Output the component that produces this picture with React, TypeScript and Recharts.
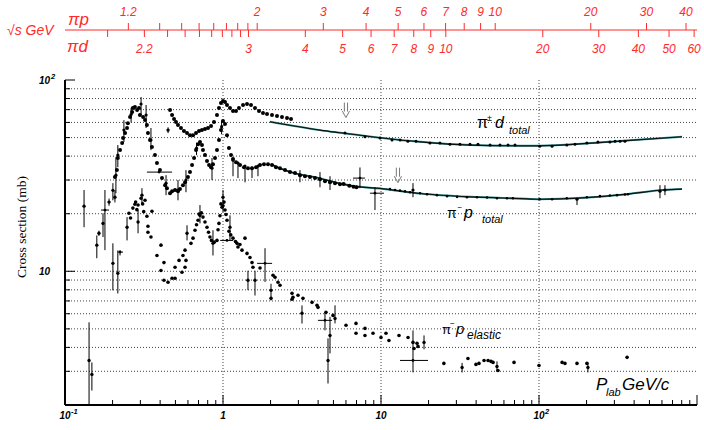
import React from "react";
import {
  ComposedChart,
  Scatter,
  Line,
  XAxis,
  YAxis,
  CartesianGrid,
  ErrorBar,
  ReferenceDot,
} from "recharts";

const RED = "#ff2a2a";
const SANS = "'Liberation Sans', Arial, sans-serif";

// masses (GeV) used to place the sqrt(s) scales on the P_lab axis
const M_PI = 0.13957;
const M_P = 0.93827;
const M_D = 1.87561;

const ppRoots = [1.2, 1.3, 1.4, 1.5, 1.6, 1.7, 1.8, 1.9, 2, 3, 4, 5, 6, 7, 8, 9, 10, 20, 30, 40];
const ppLabels = ["1.2", "", "", "", "", "", "", "", "2", "3", "4", "5", "6", "7", "8", "9", "10", "20", "30", "40"];
const pdRoots = [2.1, 2.2, 2.3, 2.4, 2.5, 2.6, 2.7, 2.8, 2.9, 3, 4, 5, 6, 7, 8, 9, 10, 20, 30, 40, 50, 60];
const pdLabels = ["", "2.2", "", "", "", "", "", "", "", "3", "4", "5", "6", "7", "8", "9", "10", "20", "30", "40", "50", "60"];

const plab = (rs: number, m: number) => {
  const e = (rs * rs - M_PI * M_PI - m * m) / (2 * m);
  return Math.sqrt(e * e - M_PI * M_PI);
};

const xTicks = [
  0.1, 0.2, 0.3, 0.4, 0.5, 0.6, 0.7, 0.8, 0.9, 1, 2, 3, 4, 5, 6, 7, 8, 9, 10, 20, 30, 40, 50, 60, 70, 80, 90,
  100, 200, 300, 400, 500, 600, 700, 800, 900, 1000,
];
const xMajor = [0.1, 1, 10, 100, 1000];
const xLabelAt = [0.1, 1, 10, 100];
const xLabelMain = ["10", "1", "10", "10"];
const xLabelSup = ["-1", "", "", "2"];
const xGrid = [1, 10, 100];

const yTicks = [2, 3, 4, 5, 6, 7, 8, 9, 10, 20, 30, 40, 50, 60, 70, 80, 90, 100];
const yGrid = [3, 4, 5, 6, 7, 8, 9, 10, 20, 30, 40, 50, 60, 70, 80, 90];
const yLabelAt = [10, 100];
const yLabelSup = ["", "2"];

// pi d total, dense data below 3 GeV/c  [p, sigma]
const pdTotal = [
  [0.462, 69.6], [0.476, 65.6], [0.49, 62.5], [0.504, 60.3], [0.519, 58.1], [0.542, 56.1], [0.566, 54.1],
  [0.592, 52.8], [0.618, 51.5], [0.646, 51.5], [0.675, 52.8], [0.705, 54.1], [0.736, 54.7], [0.769, 55.4],
  [0.804, 56.1], [0.84, 57.4], [0.877, 60.3], [0.916, 65.6], [0.943, 71.4], [0.971, 75.8], [1.0, 77.7],
  [1.03, 76.7], [1.06, 74.0], [1.107, 71.4], [1.157, 68.8], [1.209, 68.8], [1.262, 71.4], [1.339, 74.0],
  [1.419, 74.9], [1.504, 74.0], [1.594, 71.4], [1.69, 68.8], [1.791, 67.2], [1.899, 66.4], [2.042, 65.6],
  [2.197, 64.8], [2.362, 64.0], [2.542, 63.2], [2.694, 62.5],
];
// pi d total, points along the fit
const pdHigh = [
  [5.92, 52.8], [7.92, 50.5], [9.86, 49.7], [11.74, 48.5], [13.2, 48.5], [14.8, 47.9], [16.66, 47.9],
  [20.4, 46.8], [23.6, 46.8], [27.3, 46.2], [31.6, 46.2], [36.6, 46.2], [41.1, 46.2], [49.0, 45.7],
  [56.6, 45.7], [63.7, 45.7], [70.5, 45.7], [101, 45.1], [121, 45.1], [150, 45.7], [169, 46.2],
  [201, 46.8], [236, 47.4], [281, 47.4], [303, 47.9], [326, 47.9], [350, 47.9],
];
const pdFit = [
  [1.98, 60.5], [4.11, 54.7], [5.5, 53.0], [9.86, 49.9], [17.7, 47.5], [36.6, 45.7], [75.8, 45.3],
  [101, 45.3], [201, 46.6], [340, 48.1], [804, 50.5],
];

// pi- p total, dense data  [p, sigma]
const pimpTotal = [
  [0.207, 31.1], [0.213, 33.8], [0.216, 39.1], [0.223, 43.0], [0.23, 46.8], [0.233, 49.7], [0.24, 52.8],
  [0.247, 56.1], [0.25, 59.5], [0.258, 64.0], [0.266, 68.0], [0.269, 71.4], [0.277, 72.2], [0.286, 69.6],
  [0.294, 71.4], [0.298, 65.6], [0.312, 64.0], [0.321, 61.7], [0.33, 58.1], [0.335, 52.8], [0.345, 48.5],
  [0.355, 44.6], [0.371, 40.5], [0.382, 36.8], [0.399, 33.8], [0.411, 30.7], [0.43, 28.2], [0.442, 27.2],
  [0.462, 25.6], [0.476, 26.2], [0.497, 26.6], [0.519, 26.2], [0.534, 26.9], [0.558, 28.2], [0.575, 29.2],
  [0.6, 31.1], [0.618, 33.0], [0.637, 35.9], [0.656, 39.1], [0.675, 43.0], [0.695, 46.2], [0.715, 47.4],
  [0.736, 45.7], [0.747, 43.0], [0.769, 40.5], [0.792, 37.7], [0.816, 35.9], [0.84, 35.0], [0.864, 36.3],
  [0.89, 39.1], [0.916, 43.0], [0.943, 48.5], [0.971, 54.7], [1.0, 61.0], [1.03, 58.8], [1.06, 51.5],
  [1.09, 44.1], [1.124, 40.5], [1.157, 38.6], [1.209, 37.2], [1.281, 35.9], [1.358, 35.0], [1.439, 34.6],
  [1.526, 34.6], [1.618, 35.0], [1.715, 35.9], [1.817, 36.3], [1.927, 36.3], [2.042, 35.9], [2.164, 35.0],
  [2.295, 34.6], [2.469, 33.8], [2.655, 33.0], [2.856, 32.6], [3.072, 31.8], [3.304, 31.4], [3.553, 31.1],
  [3.822, 30.7], [4.11, 30.3], [4.42, 29.6], [4.756, 29.2], [5.117, 28.9], [5.502, 28.5], [5.8, 28.6],
  [6.3, 28.0], [6.7, 27.7], [7.0, 27.5],
];
const pimpHigh = [
  [11.4, 26.9], [12.27, 26.6], [13.19, 26.4], [14.19, 26.2], [15.26, 25.9], [17.66, 25.6], [19.55, 25.3],
  [22.6, 25.0], [26.2, 24.7], [30.3, 24.5], [35.0, 24.4], [40.5, 24.4], [46.9, 24.3], [54.2, 24.1],
  [62.7, 24.1], [68.4, 24.1], [101, 23.8], [121, 23.8], [150, 24.1], [201, 24.4], [243, 24.7], [281, 24.9],
  [312, 25.0], [350, 25.2], [366, 25.3],
];
// [p, sigma, err-, err+]
const pimpTotalErr = [
  [0.201, 26.5, 3.0, 2.4], [0.21, 31.8, 6.2, 7.7], [0.216, 40.5, 5.5, 5.2], [0.236, 54.7, 7.3, 7.0],
  [0.262, 66.0, 6.0, 5.5], [0.303, 74.9, 9.3, 6.6], [0.326, 65.6, 9.5, 8.4], [0.35, 48.5, 5.5, 7.6],
  [0.436, 28.9, 3.9, 2.9], [0.519, 26.6, 3.1, 3.4], [0.583, 30.0, 4.1, 3.8], [0.68, 44.0, 3.5, 3.0],
  [0.852, 34.6, 4.6, 4.5], [0.98, 57.0, 5.0, 4.0], [1.157, 38.1, 6.7, 0.5], [1.244, 36.8, 6.1, 0.3],
  [1.378, 35.5, 6.3, 0.3], [1.526, 34.6, 3.9, 0.3], [1.665, 35.5, 4.1, 0.3], [3.07, 31.8, 2.6, 2.0],
  [4.11, 30.3, 2.8, 2.7], [4.756, 29.2, 2.6, 2.2], [15.94, 26.6, 2.2, 2.3], [174, 23.8, 1.6, 0.4],
  [583, 26.2, 2.1, 2.0], [627, 26.6, 1.6, 1.6],
];
const pimpFit = [
  [2.07, 35.9], [2.3, 34.5], [2.86, 32.5], [3.7, 31.2], [5.5, 28.8], [6.65, 27.9], [9.86, 27.1],
  [17.7, 25.5], [36.6, 24.5], [75.8, 24.0], [101, 23.8], [201, 24.3], [361, 25.3], [609, 26.6], [804, 26.9],
];

// pi- p elastic
const elastic = [
  [0.254, 20.1], [0.26, 19.0], [0.269, 21.4], [0.277, 22.4], [0.28, 23.0], [0.285, 21.0], [0.29, 22.2],
  [0.303, 24.1], [0.31, 22.5], [0.315, 20.5], [0.321, 23.5], [0.33, 19.4], [0.335, 17.2], [0.335, 16.0],
  [0.35, 15.1], [0.355, 20.6], [0.382, 12.1], [0.405, 13.7], [0.423, 11.1], [0.405, 10.1], [0.423, 8.97],
  [0.449, 8.76], [0.476, 9.19], [0.497, 10.5], [0.527, 11.4], [0.497, 9.19], [0.55, 9.88], [0.575, 10.5],
  [0.558, 12.1], [0.583, 11.4], [0.575, 12.9], [0.627, 14.0], [0.646, 14.9], [0.665, 16.4], [0.68, 17.5],
  [0.695, 18.5], [0.705, 19.9], [0.73, 20.2], [0.747, 19.2], [0.769, 18.1], [0.792, 17.0], [0.81, 16.0],
  [0.827, 15.1], [0.845, 14.5], [0.88, 14.2], [0.916, 14.5], [0.93, 16.5], [0.943, 17.8], [0.957, 19.5],
  [0.97, 22.5], [0.986, 21.6], [1.0, 22.0], [1.015, 23.0], [1.03, 20.9], [1.045, 19.8], [1.06, 18.5],
  [1.09, 16.2], [1.12, 15.5], [1.157, 14.9], [1.2, 14.3], [1.226, 14.0], [1.244, 13.4], [1.28, 13.8],
  [1.319, 12.9], [1.378, 14.9], [1.419, 12.4], [1.482, 11.8], [1.526, 11.1], [1.548, 10.5], [1.715, 10.4],
  [2.073, 9.53], [2.134, 9.3], [2.229, 8.76], [2.295, 8.45], [2.013, 7.22], [2.734, 7.67], [2.734, 7.14],
  [2.773, 7.31], [2.984, 7.49], [3.208, 7.22], [3.659, 6.88], [3.935, 6.64], [3.993, 6.48], [4.486, 6.1],
  [4.969, 5.88], [6.005, 5.22], [6.948, 5.34], [6.948, 4.74], [7.917, 5.03], [7.917, 4.62], [8.901, 4.74],
  [10.0, 4.51], [10.75, 4.74], [11.23, 4.35], [13.0, 4.62], [14.83, 4.51], [15.94, 4.25], [16.18, 3.95],
  [16.9, 4.2], [17.15, 4.05], [25.0, 3.3], [35.5, 3.5], [39.9, 3.26], [41.7, 3.3], [44.9, 3.42], [47.6, 3.42],
  [49.7, 3.38], [51.2, 3.34], [55.0, 3.03], [69.5, 3.34], [100, 3.22], [140, 3.34], [146, 3.3], [174, 3.3],
  [201, 3.3], [361, 3.55],
];
const elasticErr = [
  [0.247, 17.0, 2.5, 2.2], [0.29, 18.1, 2.3, 2.8], [0.307, 25.0, 2.8, 2.2], [0.592, 15.8, 1.3, 1.6],
  [0.715, 19.6, 1.8, 2.6], [0.864, 14.0, 1.9, 2.4], [1.0, 24.4, 4.0, 2.2], [1.107, 17.0, 2.5, 2.6],
  [1.439, 8.97, 1.0, 1.1], [1.594, 8.97, 1.5, 1.1], [2.013, 7.95, 0.9, 0.65], [3.162, 6.03, 0.7, 0.6],
  [4.756, 4.62, 0.9, 1.16], [4.62, 3.42, 0.83, 1.04], [5.117, 5.67, 0.33, 0.97], [18.72, 4.25, 0.34, 0.37],
  [32.6, 3.14, 0.18, 0.18], [54.2, 3.18, 0.2, 0.2], [204, 3.14, 0.18, 0.2],
];

// low momentum points with large errors  [p, sigma, err-, err+]
const lowErr = [
  [0.132, 21.9, 4.9, 4.7], [0.142, 3.42, 1.42, 1.99], [0.148, 2.89, 0.51, 0.45], [0.159, 13.7, 2.0, 1.7],
  [0.164, 15.8, 0.5, 0.5], [0.174, 17.8, 2.7, 2.3], [0.19, 23.0, 1.0, 1.0], [0.207, 24.4, 1.5, 2.2],
  [0.201, 11.0, 3.05, 3.0], [0.216, 9.76, 2.1, 3.1], [0.449, 54.7, 1.9, 1.9],
];

// points drawn with horizontal and vertical bars  [p, sigma, ex-, ex+, ey-, ey+]
const crosses = [
  [0.179, 20.9, 0.01, 0.011, 8.0, 5.7], [0.223, 12.6, 0.007, 0.01, 0.5, 0.3], [0.394, 33.0, 0.064, 0.082, 0, 0],
  [1.06, 14.5, 0.1, 0.1, 0, 0], [1.845, 11.0, 0.2, 0.2, 2.2, 2.2], [4.42, 5.54, 0.43, 0.48, 0.63, 0.56],
  [15.94, 3.42, 2.75, 3.9, 0.46, 1.49], [7.36, 30.7, 0.7, 0.55, 3.5, 4.2], [9.16, 25.6, 0.65, 1.28, 4.7, 1.9],
];

// arrows marking the start of the fits
const arrows = [
  [6.0, 69.6],
  [12.8, 31.8],
];

const pts = (a: number[][]) => a.map(([p, s]) => ({ p, s }));
const errPts = (a: number[][]) => a.map(([p, s, lo, hi]) => ({ p, s, ey: [lo, hi] }));
const crossPts = (a: number[][]) =>
  a.map(([p, s, xl, xh, yl, yh]) => ({ p, s, ex: [xl, xh], ey: [yl, yh] }));

const near = (a: number, b: number) => Math.abs(a - b) / b < 1e-6;

const dot = (r: number) => (props: any) =>
  props.cx == null ? <g /> : <circle cx={props.cx} cy={props.cy} r={r} fill="#000" />;

const tickFont = { fontFamily: SANS, fontWeight: 700, fontStyle: "italic" as const, fontSize: 10, fill: "#000" };

const BottomTick = (props: any) => {
  const { x, y, payload } = props;
  const v = payload.value;
  const major = xMajor.some((m) => near(v, m));
  const li = xLabelAt.findIndex((m) => near(v, m));
  return (
    <g>
      <line x1={x} x2={x} y1={y} y2={y - (major ? 10 : 5)} stroke="#000" strokeWidth={1} />
      {li >= 0 && (
        <text x={x} y={y + 14} textAnchor="middle" style={tickFont}>
          {xLabelMain[li]}
        </text>
      )}
      {li >= 0 && xLabelSup[li] && (
        <text x={x + 6} y={y + 9} textAnchor="start" style={{ ...tickFont, fontSize: 7.5 }}>
          {xLabelSup[li]}
        </text>
      )}
    </g>
  );
};

const TopTick = (props: any) => {
  const { x, y, payload } = props;
  const major = xMajor.some((m) => near(payload.value, m));
  return <line x1={x} x2={x} y1={y} y2={y + (major ? 12 : 7)} stroke="#000" strokeWidth={1} />;
};

const LeftTick = (props: any) => {
  const { x, y, payload } = props;
  const v = payload.value;
  const li = yLabelAt.findIndex((m) => near(v, m));
  return (
    <g>
      <line x1={x} x2={x + (li >= 0 ? 10 : 5)} y1={y} y2={y} stroke="#000" strokeWidth={1} />
      {li >= 0 && (
        <text x={x - 15} y={y + 4} textAnchor="end" style={tickFont}>
          10
        </text>
      )}
      {li >= 0 && yLabelSup[li] && (
        <text x={x - 14} y={y - 1} textAnchor="start" style={{ ...tickFont, fontSize: 7.5 }}>
          {yLabelSup[li]}
        </text>
      )}
    </g>
  );
};

const sqrtFont = { fontFamily: SANS, fontStyle: "italic" as const, fontSize: 12, fill: RED };

const PpTick = (props: any) => {
  const { x, y, index } = props;
  return (
    <g>
      <line x1={x} x2={x} y1={y} y2={y - 7} stroke={RED} strokeWidth={1} />
      {ppLabels[index] && (
        <text x={x} y={y - 14} textAnchor="middle" style={sqrtFont}>
          {ppLabels[index]}
        </text>
      )}
    </g>
  );
};

const PdTick = (props: any) => {
  const { x, y, index } = props;
  return (
    <g>
      <line x1={x} x2={x} y1={y - 1} y2={y + 6} stroke={RED} strokeWidth={1} />
      {pdLabels[index] && (
        <text x={x} y={y + 22} textAnchor="middle" style={sqrtFont}>
          {pdLabels[index]}
        </text>
      )}
    </g>
  );
};

const ArrowShape = (props: any) => {
  const { cx, cy } = props;
  if (cx == null) return <g />;
  return (
    <path
      d={`M${cx - 1.6},${cy - 7.5} V${cy + 1.5} M${cx + 1.6},${cy - 7.5} V${cy + 1.5} M${cx - 3.6},${cy + 1} L${cx},${cy + 7.5} L${cx + 3.6},${cy + 1}`}
      fill="none"
      stroke="#777"
      strokeWidth={1}
    />
  );
};

function SqrtSAxes() {
  const ppPos = ppRoots.map((r) => plab(r, M_P));
  const pdPos = pdRoots.map((r) => plab(r, M_D));
  return (
    <ComposedChart width={704} height={60} margin={{ top: 0, right: 7, bottom: 0, left: 65 }}>
      <XAxis
        xAxisId="pp"
        orientation="top"
        dataKey="p"
        type="number"
        scale="log"
        domain={[0.1, 1000]}
        allowDataOverflow
        ticks={ppPos}
        interval={0}
        height={30}
        tickSize={0}
        tickMargin={0}
        tickLine={false}
        axisLine={{ stroke: RED, strokeWidth: 1.2 }}
        tick={(p: any) => <PpTick {...p} />}
      />
      <XAxis
        xAxisId="pd"
        orientation="bottom"
        dataKey="p"
        type="number"
        scale="log"
        domain={[0.1, 1000]}
        allowDataOverflow
        ticks={pdPos}
        interval={0}
        height={29}
        tickSize={0}
        tickMargin={0}
        tickLine={false}
        axisLine={false}
        tick={(p: any) => <PdTick {...p} />}
      />
    </ComposedChart>
  );
}

export default function App() {
  return (
    <div style={{ position: "absolute", left: 0, top: 0, width: 704, height: 430, background: "#fff" }}>
      <div style={{ position: "absolute", left: 0, top: 0 }}>
        <ComposedChart width={704} height={430} margin={{ top: 80, right: 7, bottom: 0, left: 0 }}>
          <CartesianGrid
            horizontalValues={yGrid}
            verticalValues={xGrid}
            stroke="#444"
            strokeDasharray="1 2"
            strokeWidth={1}
          />
          <XAxis
            dataKey="p"
            type="number"
            scale="log"
            domain={[0.1, 1000]}
            allowDataOverflow
            ticks={xTicks}
            interval={0}
            height={25}
            tickSize={0}
            tickMargin={0}
            tickLine={false}
            axisLine={{ stroke: "#000", strokeWidth: 2 }}
            tick={(p: any) => <BottomTick {...p} />}
          />
          <XAxis
            xAxisId="t"
            orientation="top"
            type="number"
            scale="log"
            domain={[0.1, 1000]}
            allowDataOverflow
            ticks={xTicks}
            interval={0}
            height={0}
            tickSize={0}
            tickMargin={0}
            tickLine={false}
            axisLine={{ stroke: "#000", strokeWidth: 1.2 }}
            tick={(p: any) => <TopTick {...p} />}
          />
          <YAxis
            dataKey="s"
            type="number"
            scale="log"
            domain={[2, 100]}
            allowDataOverflow
            ticks={yTicks}
            interval={0}
            width={65}
            tickSize={0}
            tickMargin={0}
            tickLine={false}
            axisLine={{ stroke: "#000", strokeWidth: 2 }}
            tick={(p: any) => <LeftTick {...p} />}
          />
          <YAxis
            yAxisId="r"
            orientation="right"
            type="number"
            scale="log"
            domain={[2, 100]}
            allowDataOverflow
            width={0}
            tick={false}
            tickLine={false}
            axisLine={{ stroke: "#000", strokeWidth: 1.2 }}
          />

          <Line data={pts(pdFit)} dataKey="s" type="monotone" stroke="#3a8f8f" strokeWidth={2} dot={false} isAnimationActive={false} />
          <Line data={pts(pdFit)} dataKey="s" type="monotone" stroke="#061212" strokeWidth={1.2} dot={false} isAnimationActive={false} />
          <Line data={pts(pimpFit)} dataKey="s" type="monotone" stroke="#3a8f8f" strokeWidth={2} dot={false} isAnimationActive={false} />
          <Line data={pts(pimpFit)} dataKey="s" type="monotone" stroke="#061212" strokeWidth={1.2} dot={false} isAnimationActive={false} />

          <Scatter data={pts(pdTotal)} dataKey="s" shape={dot(2)} isAnimationActive={false} />
          <Scatter data={pts(pdHigh)} dataKey="s" shape={dot(1.5)} isAnimationActive={false} />
          <Scatter data={pts(pimpTotal)} dataKey="s" shape={dot(2)} isAnimationActive={false} />
          <Scatter data={pts(pimpHigh)} dataKey="s" shape={dot(1.3)} isAnimationActive={false} />
          <Scatter data={pts(elastic)} dataKey="s" shape={dot(1.8)} isAnimationActive={false} />
          <Scatter data={errPts(pimpTotalErr)} dataKey="s" shape={dot(1.6)} isAnimationActive={false}>
            <ErrorBar dataKey="ey" direction="y" width={0} stroke="#000" strokeWidth={1} />
          </Scatter>
          <Scatter data={errPts(elasticErr)} dataKey="s" shape={dot(1.7)} isAnimationActive={false}>
            <ErrorBar dataKey="ey" direction="y" width={0} stroke="#000" strokeWidth={1} />
          </Scatter>
          <Scatter data={errPts(lowErr)} dataKey="s" shape={dot(1.7)} isAnimationActive={false}>
            <ErrorBar dataKey="ey" direction="y" width={0} stroke="#000" strokeWidth={1} />
          </Scatter>
          <Scatter data={crossPts(crosses)} dataKey="s" shape={dot(1.4)} isAnimationActive={false}>
            <ErrorBar dataKey="ey" direction="y" width={0} stroke="#000" strokeWidth={1} />
            <ErrorBar dataKey="ex" direction="x" width={0} stroke="#000" strokeWidth={1} />
          </Scatter>

          {arrows.map(([p, s], i) => (
            <ReferenceDot key={i} x={p} y={s} r={0} shape={(q: any) => <ArrowShape {...q} />} />
          ))}
        </ComposedChart>
      </div>

      <div style={{ position: "absolute", left: 0, top: 0 }}>
        <SqrtSAxes />
      </div>

      <svg width={704} height={430} style={{ position: "absolute", left: 0, top: 0, pointerEvents: "none" }}>
        <text x={7} y={35} style={{ fontFamily: SANS, fontStyle: "italic", fontSize: 14, fill: RED }}>
          √s GeV
        </text>
        <text x={68} y={25} style={{ fontFamily: SANS, fontStyle: "italic", fontSize: 17, fill: RED }}>
          πp
        </text>
        <text x={67} y={52} style={{ fontFamily: SANS, fontStyle: "italic", fontSize: 17, fill: RED }}>
          πd
        </text>

        <text
          transform="translate(26,227) rotate(-90)"
          textAnchor="middle"
          style={{ fontFamily: "'Liberation Serif', 'Times New Roman', serif", fontSize: 13.5, fill: "#000" }}
        >
          Cross section (mb)
        </text>

        <g style={{ fontFamily: SANS, fill: "#000" }}>
          <text x={477} y={128} fontSize={16}>π</text>
          <text x={487} y={121} fontSize={9}>±</text>
          <text x={495} y={128} fontSize={16} fontStyle="italic">d</text>
          <text x={509} y={134} fontSize={11} fontStyle="italic">total</text>

          <text x={447} y={218} fontSize={14}>π</text>
          <text x={457.5} y={210} fontSize={8}>−</text>
          <text x={464} y={218} fontSize={16} fontStyle="italic">p</text>
          <text x={482} y={223} fontSize={11} fontStyle="italic">total</text>

          <text x={442} y={334} fontSize={13}>π</text>
          <text x={450} y={326} fontSize={8}>−</text>
          <text x={456} y={334} fontSize={15} fontStyle="italic">p</text>
          <text x={467} y={339} fontSize={12} fontStyle="italic">elastic</text>

          <text x={596} y={390} fontSize={17} fontStyle="italic">P</text>
          <text x={606} y={396} fontSize={11} fontStyle="italic">lab</text>
          <text x={622} y={390} fontSize={17} fontStyle="italic">GeV/c</text>
        </g>
      </svg>
    </div>
  );
}
